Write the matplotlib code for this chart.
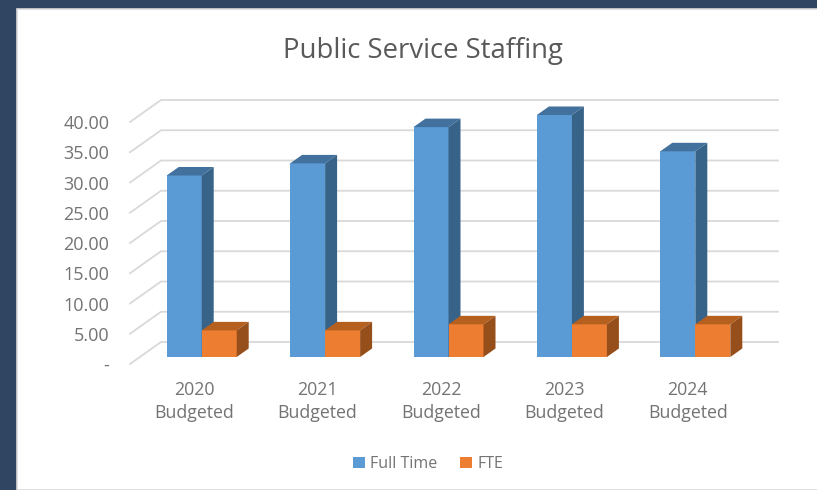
import numpy as np
import matplotlib
matplotlib.use("Agg")
import matplotlib.pyplot as plt
from matplotlib.patches import Polygon, Rectangle, Patch

categories = ["2020\nBudgeted", "2021\nBudgeted", "2022\nBudgeted", "2023\nBudgeted", "2024\nBudgeted"]
full_time = [30, 32, 38, 40, 34]
fte = [4.4, 4.4, 5.4, 5.4, 5.4]
y_ticks = [0, 5, 10, 15, 20, 25, 30, 35, 40]
y_labels = ["-", "5.00", "10.00", "15.00", "20.00", "25.00", "30.00", "35.00", "40.00"]

W, H = 817, 490
plt.rcParams['font.family'] = ['Open Sans', 'DejaVu Sans']

fig = plt.figure(figsize=(W / 100, H / 100), dpi=100, facecolor="#2f4562")

# white panel behind the chart
fig.add_artist(Rectangle((17 / W, 0), 1, 1 - 9 / H, transform=fig.transFigure,
                         facecolor="white", edgecolor="#d9d9d9", linewidth=1.2, zorder=-1))

ax = fig.add_axes([130 / W, 1 - 364 / H, 617 / W, 242 / H])
ax.set_xlim(-0.5, 4.5)
ax.set_ylim(0, 40)
ax.patch.set_alpha(0)
for s in ax.spines.values():
    s.set_visible(False)

# pixel sizes turned into data units for the fake 3d
ux = 5 / 617
uy = 40 / 242
wall_dx, wall_dy = 31 * ux, 22 * uy
front_dx, front_dy = 10 * ux, 7 * uy
deep_dx, deep_dy = 12 * ux, 8.5 * uy
bar_w = 35 * ux

# floor/wall gridlines
for t in y_ticks:
    ax.plot([-0.5, -0.5 + wall_dx, 4.5 + wall_dx], [t, t + wall_dy, t + wall_dy],
            color="#d9d9d9", lw=1.3, clip_on=False, zorder=1)


def draw_bars(xs, values, front, top, side):
    ax.bar(xs, values, width=bar_w, bottom=front_dy, color=front, zorder=3, clip_on=False)
    for x, v in zip(xs, values):
        l, r = x - bar_w / 2, x + bar_w / 2
        y0, y1 = front_dy, front_dy + v
        ax.add_patch(Polygon([(l, y1), (r, y1), (r + deep_dx, y1 + deep_dy), (l + deep_dx, y1 + deep_dy)],
                             facecolor=top, edgecolor="none", zorder=3, clip_on=False))
        ax.add_patch(Polygon([(r, y0), (r + deep_dx, y0 + deep_dy), (r + deep_dx, y1 + deep_dy), (r, y1)],
                             facecolor=side, edgecolor="none", zorder=3, clip_on=False))


x = np.arange(len(categories)) + front_dx
draw_bars(x - bar_w / 2, full_time, "#5b9bd5", "#41719c", "#386389")
draw_bars(x + bar_w / 2, fte, "#ed7d31", "#b5601f", "#964f1a")

ax.set_xticks(np.arange(len(categories)) + 2.5 * ux, categories)
ax.set_yticks(y_ticks, y_labels)
ax.tick_params(axis="x", length=0, pad=12, labelsize=12.8, labelcolor="#737373")
ax.tick_params(axis="y", length=0, pad=15, labelsize=13, labelcolor="#737373")
for lab in ax.get_xticklabels():
    lab.set_linespacing(1.4)

fig.text(423 / W, 1 - 51 / H, "Public Service Staffing", ha="center", va="center",
         fontsize=19.8, color="#595959")

handles = [Patch(facecolor="#5b9bd5", label="Full Time"), Patch(facecolor="#ed7d31", label="FTE")]
fig.legend(handles=handles, loc="center", bbox_to_anchor=(428 / W, 1 - 464 / H), ncol=2, frameon=False,
           fontsize=11.5, labelcolor="#737373", handlelength=0.75, handleheight=0.75,
           handletextpad=0.3, columnspacing=1.45)

fig.savefig("out.png", dpi=100, facecolor=fig.get_facecolor())
